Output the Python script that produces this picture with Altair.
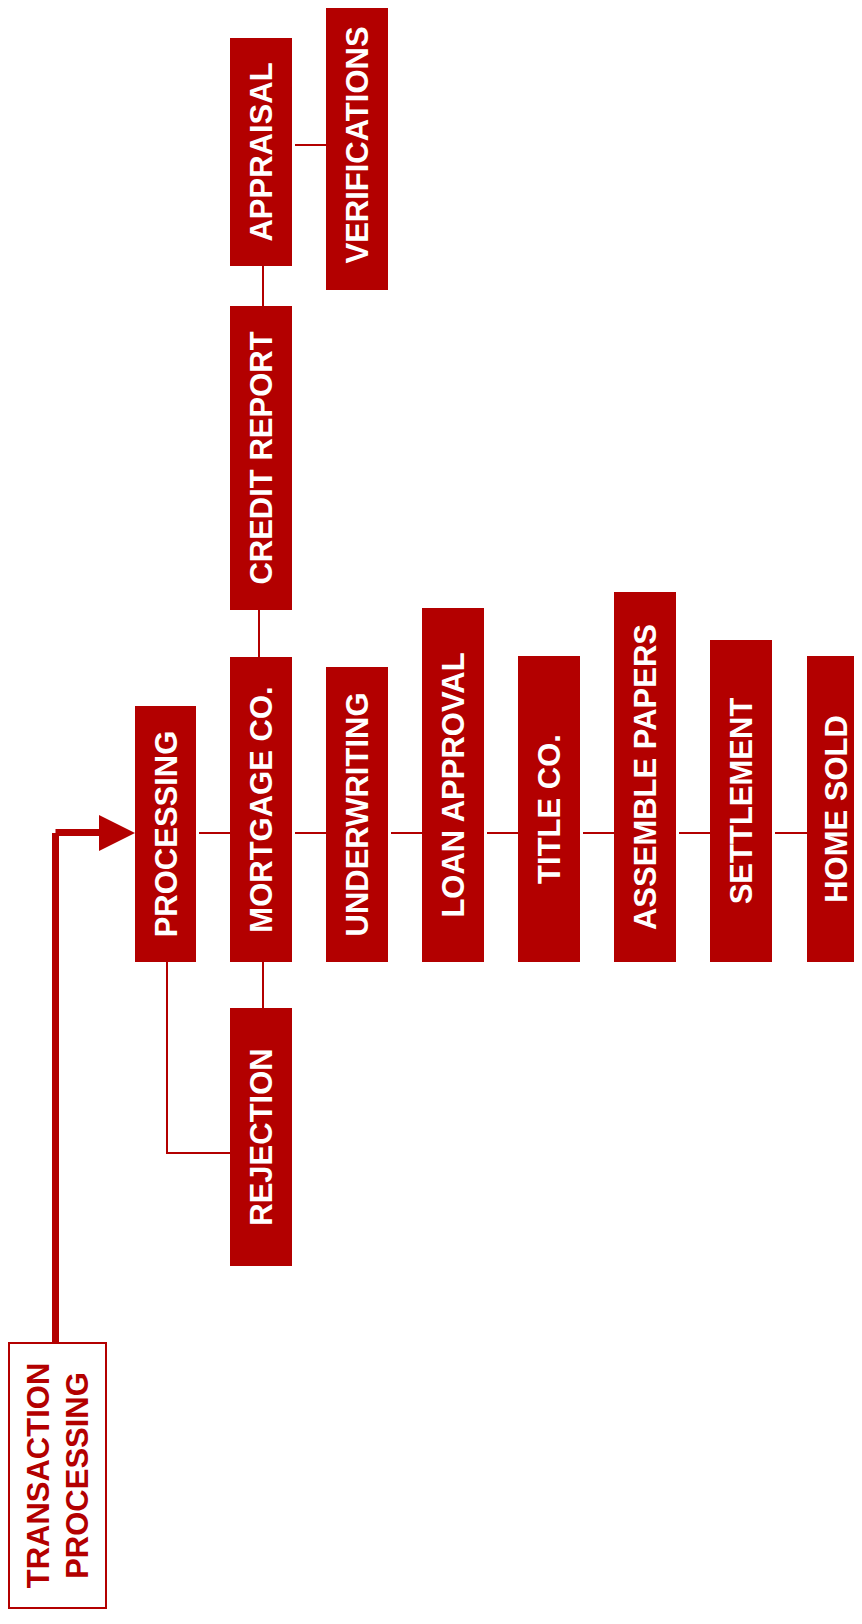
import altair as alt
import pandas as pd

RED = "#b30000"

# ---- diagram nodes (filled boxes) ----
labels = ["PROCESSING", "MORTGAGE CO.", "UNDERWRITING", "LOAN APPROVAL", "TITLE CO.",
          "ASSEMBLE PAPERS", "SETTLEMENT", "HOME SOLD", "CREDIT REPORT", "APPRAISAL",
          "VERIFICATIONS", "REJECTION"]
box_left = [135, 230, 326, 422, 518, 614, 710, 807, 230, 230, 326, 230]
box_right = [196, 292, 388, 484, 580, 676, 772, 865, 292, 292, 388, 292]
box_top = [706, 657, 667, 608, 656, 592, 640, 656, 306, 38, 0, 1008]
box_bottom = [962, 962, 962, 962, 962, 962, 962, 962, 610, 266, 290, 1266]

# ---- start node (outlined box) ----
start_lines = ["TRANSACTION", "PROCESSING"]
start_left, start_right, start_top, start_bottom = 9, 106, 1343, 1608

# ---- thin connectors ----
seg_x1 = [199, 295, 391, 487, 583, 679, 775, 259, 263, 263, 167, 167, 295]
seg_x2 = [230, 326, 422, 518, 614, 710, 807, 259, 263, 263, 167, 230, 326]
seg_y1 = [833, 833, 833, 833, 833, 833, 833, 610, 266, 962, 962, 1153, 145]
seg_y2 = [833, 833, 833, 833, 833, 833, 833, 657, 306, 1008, 1154, 1153, 145]

# ---- thick arrow from start node to PROCESSING ----
arrow_x1 = [55.5, 55.5]
arrow_x2 = [55.5, 99]
arrow_y1 = [1343, 832.5]
arrow_y2 = [833, 832.5]
arrow_tip_x = [117]
arrow_tip_y = [833]

nodes = pd.DataFrame({"label": labels, "x1": box_left, "x2": box_right,
                      "y1": box_top, "y2": box_bottom})
nodes["cx"] = (nodes["x1"] + nodes["x2"]) / 2
nodes["cy"] = (nodes["y1"] + nodes["y2"]) / 2

start = pd.DataFrame({"x1": [start_left], "x2": [start_right],
                      "y1": [start_top], "y2": [start_bottom]})
scx = (start_left + start_right) / 2
scy = (start_top + start_bottom) / 2
start_text = pd.DataFrame({"label": start_lines,
                           "cx": [scx - 19.5, scx + 19.5],
                           "cy": [scy, scy]})
segs = pd.DataFrame({"x1": seg_x1, "x2": seg_x2, "y1": seg_y1, "y2": seg_y2})
arrows = pd.DataFrame({"x1": arrow_x1, "x2": arrow_x2, "y1": arrow_y1, "y2": arrow_y2})
tip = pd.DataFrame({"x": arrow_tip_x, "y": arrow_tip_y})

W, H = 846, 1602
xs = alt.Scale(domain=[8, 8 + W], range=[0, W])
ys = alt.Scale(domain=[8, 8 + H], range=[0, H])


def X(f):
    return alt.X(f, type="quantitative", scale=xs, axis=None)


def Y(f):
    return alt.Y(f, type="quantitative", scale=ys, axis=None)


boxes = alt.Chart(nodes).mark_rect(color=RED).encode(
    x=X("x1"), x2="x2", y=Y("y1"), y2="y2")

box_text = alt.Chart(nodes).mark_text(
    color="white", font="Liberation Sans", fontWeight="bold", fontSize=31,
    angle=270, align="center", baseline="middle", dy=2
).encode(x=X("cx"), y=Y("cy"), text="label:N")

start_box = alt.Chart(start).mark_rect(
    fill="white", stroke=RED, strokeWidth=2
).encode(x=X("x1"), x2="x2", y=Y("y1"), y2="y2")

start_label = alt.Chart(start_text).mark_text(
    color=RED, font="Liberation Sans", fontWeight="bold", fontSize=31,
    angle=270, align="center", baseline="middle", dy=2
).encode(x=X("cx"), y=Y("cy"), text="label:N")

thin = alt.Chart(segs).mark_rule(color=RED, strokeWidth=2).encode(
    x=X("x1"), x2="x2", y=Y("y1"), y2="y2")

thick = alt.Chart(arrows).mark_rule(color=RED, strokeWidth=7, strokeCap="butt").encode(
    x=X("x1"), x2="x2", y=Y("y1"), y2="y2")

head = alt.Chart(tip).mark_point(
    shape="M-1,-1L1,0L-1,1Z", filled=True, color=RED, opacity=1, size=1296,
    strokeWidth=0
).encode(x=X("x"), y=Y("y"))

chart = alt.layer(thin, thick, head, boxes, box_text, start_box, start_label).properties(
    width=W, height=H, padding=0, autosize="none"
).configure_view(stroke=None)

chart.save("out.html", embed_options={"renderer": "svg", "actions": False})
